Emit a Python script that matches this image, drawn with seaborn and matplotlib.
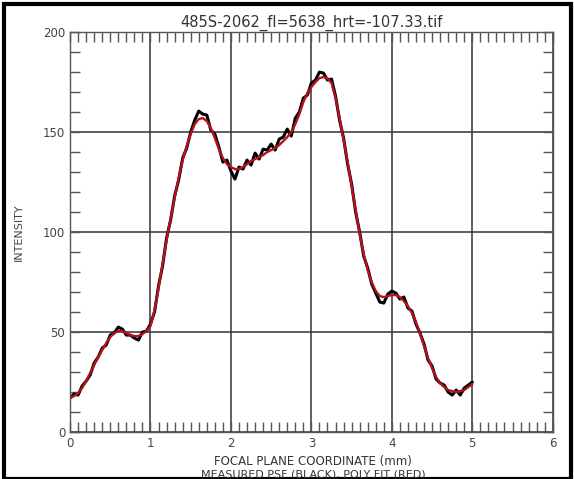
import matplotlib
matplotlib.use("Agg")
import matplotlib.pyplot as plt
import seaborn as sns
import numpy as np
import pandas as pd
from matplotlib.patches import Rectangle
from matplotlib.ticker import MultipleLocator

# focal plane coordinate (mm), 0.05 mm step
coord = np.round(np.arange(0, 5.0001, 0.05), 2)

# polynomial fit (red)
poly_fit = [17, 18, 19.5, 22, 25.5, 29.5, 33.5, 37.5, 41, 44.5,
            47.5, 49.5, 50.5, 50.5, 49.5, 48.5, 48, 48, 49, 50.5,
            53, 61, 72, 84, 96, 107, 117, 127, 136, 143,
            149, 154, 156.5, 157, 155.5, 152, 147, 141.5, 137, 134,
            132.5, 131.5, 131.5, 132.5, 134, 135.5, 136.5, 137.5, 138.5, 140,
            141, 142, 143.5, 145.5, 147.5, 150, 154, 159, 165, 169.5,
            172.5, 175, 177, 177.5, 177, 174.5, 167, 157, 146, 135,
            123, 111, 99, 89, 81, 75, 70.5, 68, 67.5, 68,
            68.5, 68.5, 67.5, 65.5, 63, 59.5, 55, 49.5, 43, 37,
            32, 27.5, 24.5, 22.5, 21, 20.5, 20, 20.5, 21, 22.5,
            24]

# measured psf (black) minus fit, estimated where the black shows
residual = [0, 1, -1, 1, 0, -1, 1, 0, 1, -1,
            1, 0, 2, 1, -1, 0, -1, -2, 1, 0,
            1, -1, 1, -1, 1, -1, 1, -1, 1, -1,
            1, 2, 4, 2, 3, -1, 2, 1, -2, 2,
            -2, -5, 1, -1, 2, -2, 3, -1, 3, 1,
            3, -1, 3, 2, 4, -2, 3, 1, 2, -1,
            2, 1, 3, 2, -1, 2, 1, -1, 1, -1,
            1, -1, 1, -1, 1, -1, -1, -3, -3, 1,
            2, 1, -1, 2, -1, 1, -1, 0, 1, -1,
            1, -1, 0, 1, -1, -2, 1, -2, 1, 1,
            1]

df = pd.DataFrame({"coord": coord, "fit": poly_fit,
                   "measured": np.array(poly_fit) + np.array(residual)})

sns.set_style("white")
plt.rcParams['font.family'] = ['DejaVu Sans']

fig = plt.figure(figsize=(5.74, 4.79), dpi=100)
ax = fig.add_axes([0.122, 0.098, 0.841, 0.835])

sns.lineplot(data=df, x="coord", y="measured", color="black", lw=2.2, ax=ax)
sns.lineplot(data=df, x="coord", y="fit", color="#b3121e", lw=1.7, ax=ax)

ax.set_xlim(0, 6)
ax.set_ylim(0, 200)
ax.xaxis.set_major_locator(MultipleLocator(1))
ax.xaxis.set_minor_locator(MultipleLocator(0.1))
ax.yaxis.set_major_locator(MultipleLocator(50))
ax.yaxis.set_minor_locator(MultipleLocator(10))
ax.grid(True, which="major", color="#333333", lw=1.1)
ax.tick_params(which="both", direction="in", top=True, right=True,
               bottom=True, left=True,
               colors="#555555", labelcolor="#444444", labelsize=8.5)
ax.tick_params(which="major", length=7, width=1)
ax.tick_params(which="minor", length=7, width=1)
for s in ax.spines.values():
    s.set_color("#555555")
    s.set_linewidth(1)

ax.set_xlabel("")
ax.set_ylabel("INTENSITY", fontsize=8, color="#444444", labelpad=14)
ax.set_title("485S-2062_fl=5638_hrt=-107.33.tif", fontsize=10.5,
             color="#333333", pad=4)
fig.text(0.545, 0.03, "FOCAL PLANE COORDINATE (mm)", ha="center",
         fontsize=8.5, color="#333333")
fig.text(0.545, 0.004, "MEASURED PSF (BLACK), POLY FIT (RED)", ha="center",
         fontsize=8, color="#333333")

# scanned page border
fig.patches.append(Rectangle((0.007, 0.0), 0.988, 0.991, transform=fig.transFigure,
                             fill=False, edgecolor="black", lw=3))

fig.savefig("out.png", dpi=100)
